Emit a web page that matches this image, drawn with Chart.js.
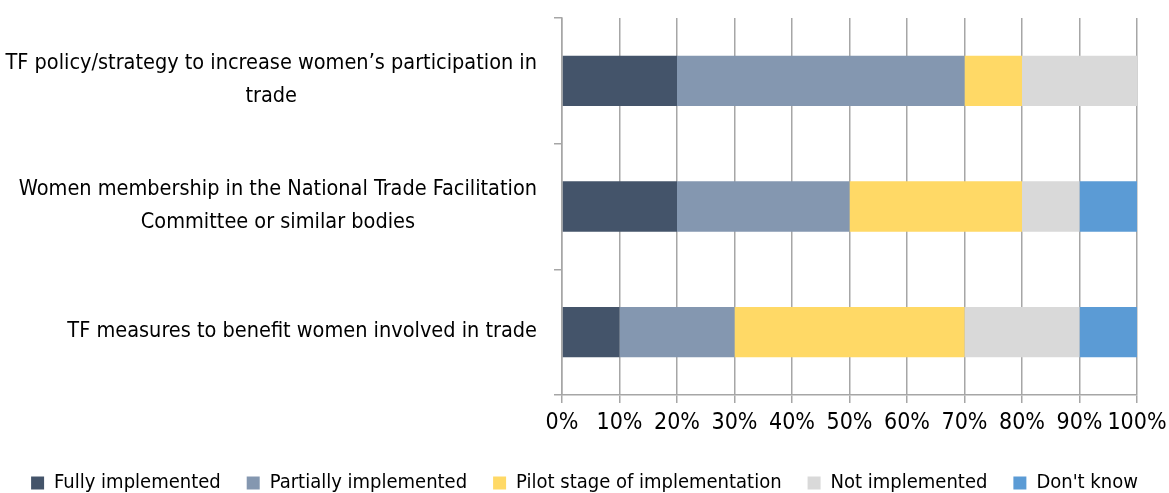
<!DOCTYPE html>
<html>
<head>
<meta charset="utf-8">
<script src="https://cdn.jsdelivr.net/npm/chart.js@4.4.1/dist/chart.umd.min.js"></script>
<style>
  html, body { margin: 0; padding: 0; background: #fff; }
  #wrap { width: 1169px; height: 493px; }
</style>
</head>
<body>
<div id="wrap"><canvas id="myChart"></canvas></div>
<script>
// categories (top to bottom) and series values in %
const categories = [
    ['TF policy/strategy to increase women\u2019s participation in', 'trade'],
    ['Women membership in the National Trade Facilitation', 'Committee or similar bodies'],
    ['TF measures to benefit women involved in trade']
];
const fullyImplemented = [20, 20, 10];
const partiallyImplemented = [50, 30, 20];
const pilotStage = [10, 30, 40];
const notImplemented = [20, 10, 20];
const dontKnow = [0, 10, 10];
const xTicks = [0, 10, 20, 30, 40, 50, 60, 70, 80, 90, 100];

const FONT = '"DejaVu Sans Condensed", "Liberation Sans", Arial, sans-serif';
const gridColor = '#a6a6a6';

// draw the category labels: block right aligned, lines centred in the block
const catLabels = {
    id: 'catLabels',
    afterDraw(chart) {
        const ctx = chart.ctx;
        const y = chart.scales.y;
        const right = 537;
        const lineH = 33;
        ctx.save();
        ctx.font = '21.5px ' + FONT;
        ctx.fillStyle = '#000';
        ctx.textAlign = 'center';
        ctx.textBaseline = 'middle';
        categories.forEach((lines, i) => {
            const w = Math.max(...lines.map(l => ctx.measureText(l).width));
            const cx = right - w / 2;
            const cy = y.getPixelForValue(i) - 1;
            const start = cy - (lines.length - 1) * lineH / 2;
            lines.forEach((l, j) => ctx.fillText(l, cx, start + j * lineH));
        });
        ctx.restore();
    }
};

const ctx = document.getElementById('myChart').getContext('2d');
const myChart = new Chart(ctx, {
    type: 'bar',
    data: {
        labels: categories,
        datasets: [
            { label: 'Fully implemented', data: fullyImplemented, backgroundColor: '#44546a' },
            { label: 'Partially implemented', data: partiallyImplemented, backgroundColor: '#8497b0' },
            { label: 'Pilot stage of implementation', data: pilotStage, backgroundColor: '#ffd966' },
            { label: 'Not implemented', data: notImplemented, backgroundColor: '#d9d9d9' },
            { label: "Don't know", data: dontKnow, backgroundColor: '#5b9bd5' }
        ]
    },
    options: {
        indexAxis: 'y',
        responsive: true,
        maintainAspectRatio: false,
        animation: false,
        barPercentage: 0.4,
        categoryPercentage: 1,
        layout: { padding: { top: 18, right: 0, left: 0, bottom: -10 } },
        plugins: {
            tooltip: { enabled: false },
            legend: {
                position: 'bottom',
                labels: {
                    boxWidth: 13,
                    boxHeight: 13,
                    padding: 26,
                    color: '#000',
                    font: { family: FONT, size: 20 }
                }
            }
        },
        scales: {
            x: {
                stacked: true,
                min: 0,
                max: 100,
                afterBuildTicks: (s) => { s.ticks = xTicks.map(v => ({ value: v })); },
                afterFit: (s) => { s.height = 52; s.paddingRight = 32; },
                ticks: {
                    callback: (v) => v + '%',
                    color: '#000',
                    padding: 6,
                    autoSkip: false,
                    maxRotation: 0,
                    font: { family: FONT, size: 23 }
                },
                grid: { color: gridColor, lineWidth: 1.5, tickLength: 8 },
                border: { color: gridColor, width: 1.5 }
            },
            y: {
                stacked: true,
                afterFit: (s) => { s.width = 562; },
                ticks: { display: false },
                grid: { offset: true, drawOnChartArea: false, color: gridColor, lineWidth: 1.5, tickLength: 8 },
                border: { color: gridColor, width: 1.5 }
            }
        }
    },
    plugins: [catLabels]
});
</script>
</body>
</html>
